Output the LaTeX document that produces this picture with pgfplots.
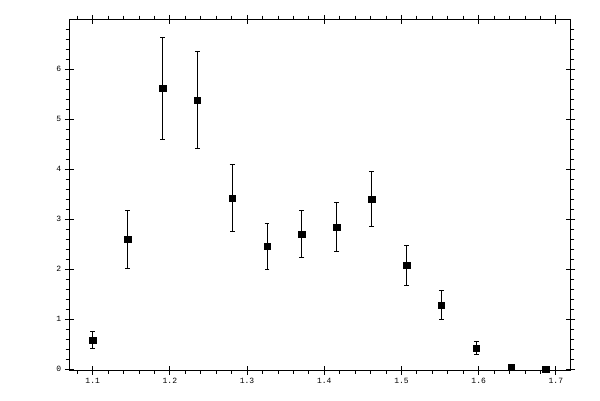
\documentclass[border=0pt]{standalone}
\usepackage{pgfplots}
\pgfplotsset{compat=1.18}
\usepackage{fontspec}
\setmonofont{Liberation Mono}
\begin{document}
\begin{tikzpicture}
\useasboundingbox (-69.3pt,-30pt) rectangle (530.7pt,370pt);
\pgfplotsset{
  common/.style={
    at={(0pt,0pt)}, anchor=south west,
    scale only axis, width=501.4pt, height=350.7pt,
    xmin=1.0697, xmax=1.7192, ymin=-0.014, ymax=7.0,
    axis line style={line width=0.9pt},
    every tick/.style={black, line width=0.9pt},
  }
}
% minor ticks (outside)
\begin{axis}[common,
  xtick={1.1,1.2,1.3,1.4,1.5,1.6,1.7}, ytick={0,1,2,3,4,5,6},
  xticklabels={}, yticklabels={},
  minor xtick={1.08,1.12,1.14,1.16,1.18,1.22,1.24,1.26,1.28,1.32,1.34,1.36,1.38,1.42,1.44,1.46,1.48,1.52,1.54,1.56,1.58,1.62,1.64,1.66,1.68},
  minor ytick={0.2,0.4,0.6,0.8,1.2,1.4,1.6,1.8,2.2,2.4,2.6,2.8,3.2,3.4,3.6,3.8,4.2,4.4,4.6,4.8,5.2,5.4,5.6,5.8,6.2,6.4,6.6,6.8},
  tick align=outside, minor tick length=3.6pt, major tick length=0pt,
]
\end{axis}
% major ticks, labels and data
\begin{axis}[common,
  xtick={1.1,1.2,1.3,1.4,1.5,1.6,1.7},
  ytick={0,1,2,3,4,5,6},
  xticklabels={1.1,1.2,1.3,1.4,1.5,1.6,1.7},
  yticklabels={0,1,2,3,4,5,6},
  tick align=center, major tick length=9pt,
  /pgf/number format/assume math mode=true,
  ticklabel style={font=\fontsize{8}{9}\selectfont\ttfamily},
  clip=false,
]
\addplot[only marks, mark=square*, mark size=3.3pt, mark options={fill=black, draw=black, line width=0.3pt},
  error bars/.cd, y dir=both, y explicit,
  error bar style={line width=0.9pt, black},
  error mark options={rotate=90, mark size=2.4pt, line width=0.9pt, black}]
  table[x=x, y=y, y error=e] {
x y e
1.1000 0.58 0.17
1.1452 2.60 0.58
1.1903 5.62 1.02
1.2355 5.38 0.97
1.2806 3.42 0.67
1.3258 2.46 0.46
1.3710 2.70 0.47
1.4161 2.84 0.49
1.4613 3.40 0.55
1.5064 2.08 0.40
1.5516 1.28 0.29
1.5968 0.42 0.13
1.6419 0.04 0.02
1.6871 0.00 0.00
};
\end{axis}
\end{tikzpicture}
\end{document}
